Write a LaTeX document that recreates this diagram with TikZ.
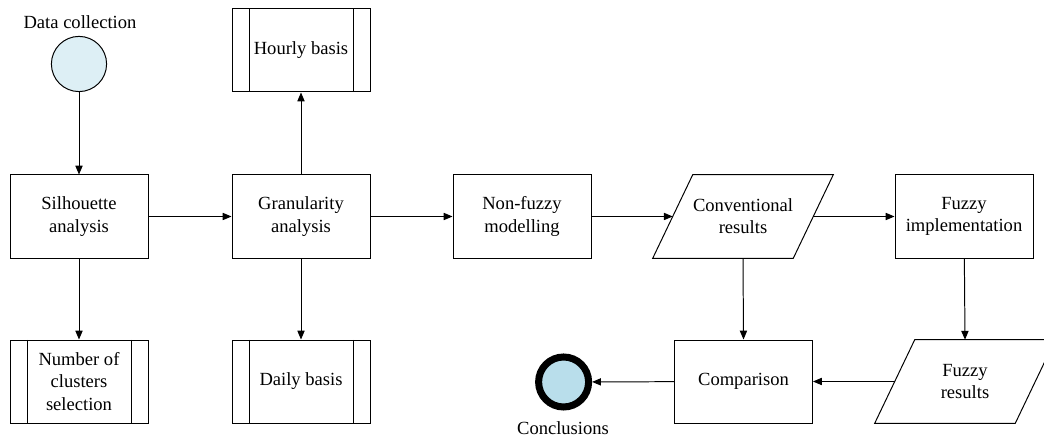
\documentclass[tikz,border=0pt]{standalone}
\usepackage{fontspec}
\setmainfont{Liberation Serif}
\usepackage{xcolor}
\usepackage{tikz}
\usetikzlibrary{shapes,arrows,positioning,calc,arrows.meta}

\definecolor{startblue}{RGB}{221,239,245}
\definecolor{endblue}{RGB}{185,222,235}

\begin{document}
\begin{tikzpicture}[
    font=\fontsize{13.2}{15.8}\selectfont,
    every node/.style={align=center},
    box/.style={draw, line width=0.7pt, rectangle, minimum width=3.45cm, minimum height=2.075cm, inner sep=0pt},
    predef/.style={box, path picture={
        \draw [line width=0.7pt] ([xshift=4.25mm]path picture bounding box.north west) -- ([xshift=4.25mm]path picture bounding box.south west)
              ([xshift=-4.25mm]path picture bounding box.north east) -- ([xshift=-4.25mm]path picture bounding box.south east);}},
    iobox/.style={rectangle, minimum width=3.5cm, minimum height=2.075cm, inner sep=0pt},
    terminal/.style={draw, circle, inner sep=0pt},
    flow/.style={-{Triangle[length=2.2mm,width=1.8mm]}, line width=0.7pt}
]
    \useasboundingbox (0,0) rectangle (26.1,10.95);

    % Start
    \node [terminal, fill=startblue, line width=0.7pt, minimum size=1.38cm] (datacol) at (1.975,9.35) {};
    \node (datalbl) at (2.0,10.4) {Data collection};

    % Clustering
    \node [box] (sil) at (1.975,5.5375) {Silhouette\\analysis};
    \node [predef] (nclust) at (1.975,1.4125) {Number of\\clusters\\selection};

    % Granularity
    \node [box] (gran) at (7.525,5.5375) {Granularity\\analysis};
    \node [predef] (hourly) at (7.525,9.6875) {Hourly basis};
    \node [predef] (daily) at (7.525,1.4125) {Daily basis};

    % Models
    \node [box] (nonfuzzy) at (13.05,5.5375) {Non-fuzzy\\modelling};
    \node [iobox] (conv) at (18.575,5.5375) {Conventional\\results};
    \node [box] (fuzzyimpl) at (24.1,5.5375) {Fuzzy\\implementation};
    \node [iobox] (fuzzyres) at (24.125,1.4125) {Fuzzy\\results};
    \node [box] (comp) at (18.5875,1.4125) {Comparison};

    % Parallelogram outlines
    \foreach \n in {conv,fuzzyres}
        \draw [line width=0.7pt] ($(\n.north west)+(0.5,0)$) -- ($(\n.north east)+(0.5,0)$)
            -- ($(\n.south east)+(-0.5,0)$) -- ($(\n.south west)+(-0.5,0)$) -- cycle;

    % End
    \node [terminal, fill=endblue, line width=5pt, minimum size=1.25cm] (concl) at (14.09,1.4) {};
    \node (concllbl) at (14.075,0.25) {Conclusions};

    % Connectors
    \draw [flow] (datacol) -- (sil);
    \draw [flow] (sil) -- (gran);
    \draw [flow] (sil) -- (nclust);
    \draw [flow] (gran) -- (hourly);
    \draw [flow] (gran) -- (daily);
    \draw [flow] (gran) -- (nonfuzzy);
    \draw [flow] (nonfuzzy) -- (conv.west);
    \draw [flow] (conv.east) -- (fuzzyimpl);
    \draw [flow] (conv.south) -- (comp.north);
    \draw [flow] (fuzzyimpl) -- (fuzzyres.north);
    \draw [flow] (fuzzyres.west) -- (comp);
    \draw [flow] (comp) -- (concl);
\end{tikzpicture}
\end{document}
